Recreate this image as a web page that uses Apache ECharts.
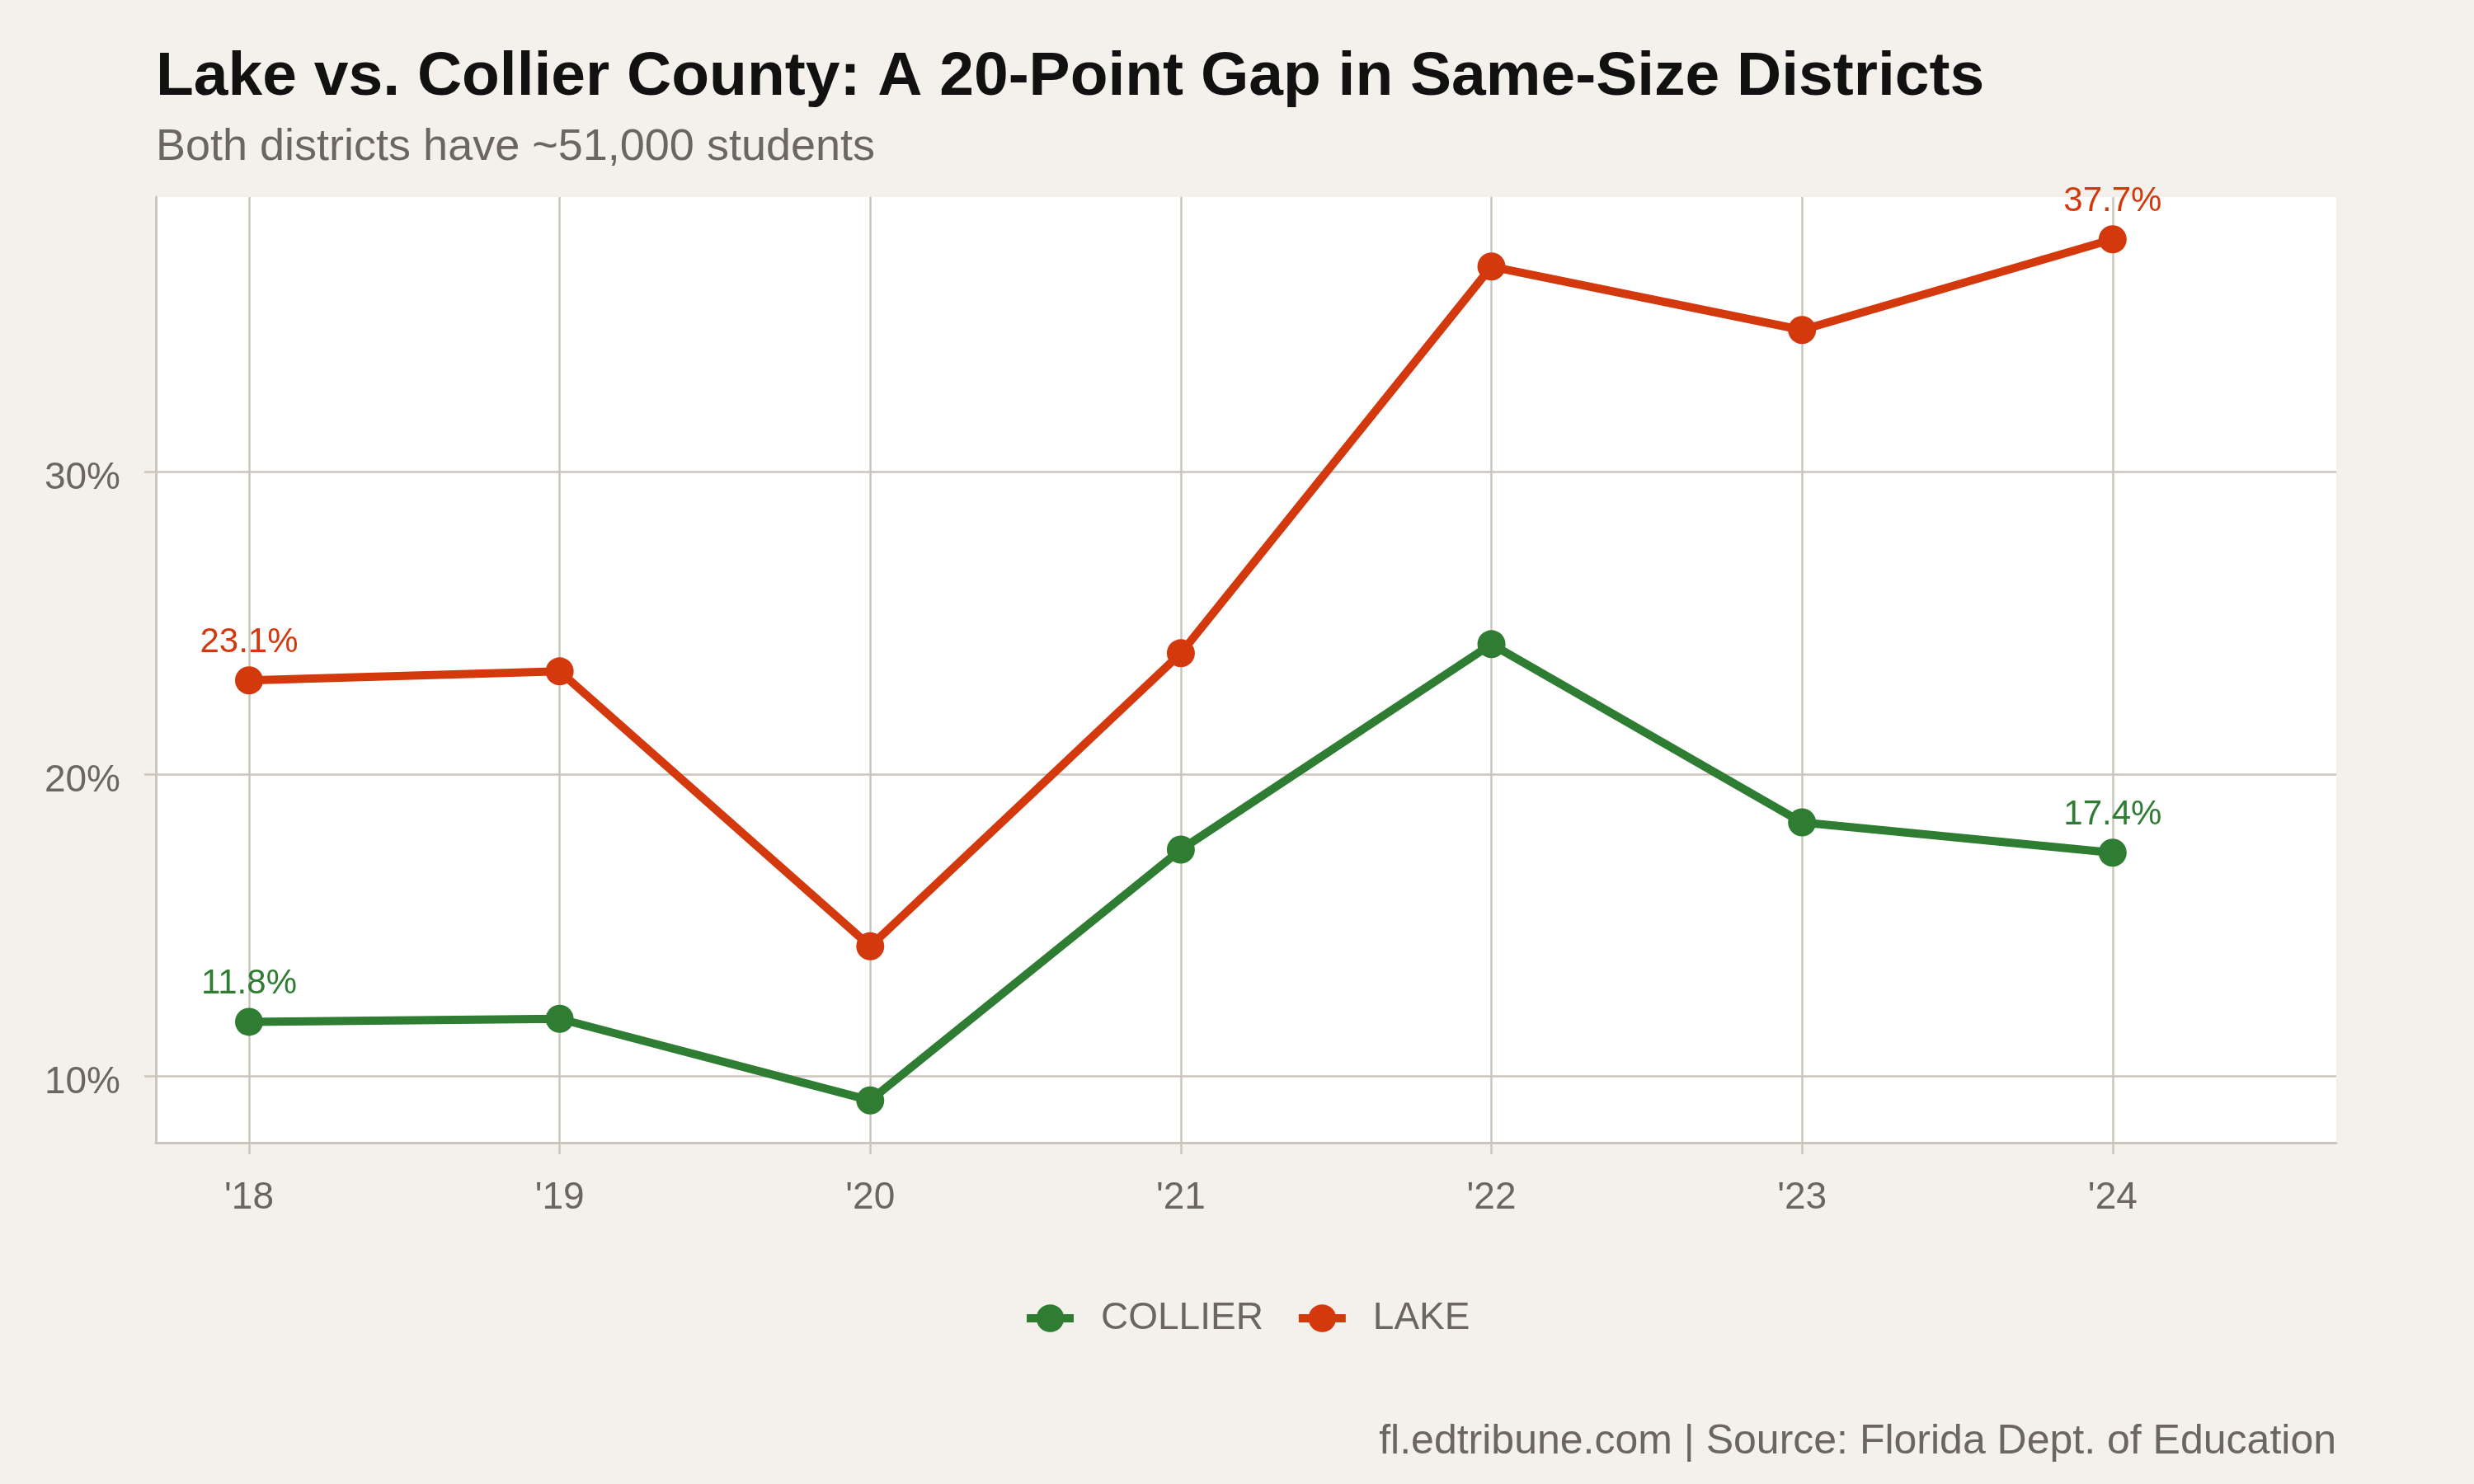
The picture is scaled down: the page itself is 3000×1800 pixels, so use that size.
<!DOCTYPE html>
<html>
<head>
<meta charset="utf-8">
<title>Lake vs. Collier County</title>
<script src="https://cdn.jsdelivr.net/npm/echarts@6/dist/echarts.min.js"></script>
<style>
  html, body { margin: 0; padding: 0; background: #f4f1ec; }
  #chartmain { width: 3000px; height: 1800px; }
</style>
</head>
<body>
<div id="chartmain"></div>
<script>
// data
var years = [2018, 2019, 2020, 2021, 2022, 2023, 2024];
var yearLabels = ["'18", "'19", "'20", "'21", "'22", "'23", "'24"];
var collier = [11.8, 11.9, 9.2, 17.5, 24.3, 18.4, 17.4];
var lake = [23.1, 23.4, 14.3, 24.0, 36.8, 34.7, 37.7];
var yTicks = [10, 20, 30];

var gridColor = '#cbc5bb';
var textGray = '#6b6660';
var font = '"Liberation Sans", Arial, Helvetica, sans-serif';

// label only the first and last point of each line
function points(vals, color) {
	return vals.map(function(v, i) {
		var item = { value: [years[i], v] };
		if (i === 0 || i === vals.length - 1) {
			item.label = {
				show: true,
				position: 'top',
				distance: 8,
				color: color,
				fontSize: 42,
				fontFamily: font,
				formatter: function(p) { return p.value[1].toFixed(1) + '%'; }
			};
		}
		return item;
	});
}

var option = {
	backgroundColor: '#f4f1ec',
	animation: false,
	title: [{
		text: 'Lake vs. Collier County: A 20-Point Gap in Same-Size Districts',
		left: 189,
		top: 57,
		padding: 0,
		textStyle: { fontSize: 75, fontWeight: 'bold', color: '#111111', fontFamily: font, lineHeight: 75 }
	}, {
		text: 'Both districts have ~51,000 students',
		left: 189,
		top: 152,
		padding: 0,
		textStyle: { fontSize: 54, fontWeight: 'normal', color: textGray, fontFamily: font, lineHeight: 54 }
	}, {
		text: 'fl.edtribune.com | Source: Florida Dept. of Education',
		right: 167,
		top: 1724,
		padding: 0,
		textStyle: { fontSize: 50, fontWeight: 'normal', color: textGray, fontFamily: font, lineHeight: 50 }
	}],
	legend: {
		data: ['COLLIER', 'LAKE'],
		left: 1240,
		top: 1576,
		padding: 0,
		itemWidth: 57,
		itemHeight: 42,
		itemGap: 38,
		lineStyle: { width: 10 },
		textStyle: { fontSize: 46, color: textGray, fontFamily: font, padding: [0, 0, 0, 28] }
	},
	grid: {
		left: 189,
		right: 167,
		top: 239,
		bottom: 414,
		show: true,
		backgroundColor: '#ffffff',
		borderWidth: 0
	},
	xAxis: {
		type: 'value',
		min: 2017.7,
		max: 2024.72,
		axisLine: { show: true, lineStyle: { color: gridColor, width: 3 } },
		axisTick: { show: true, length: 14, customValues: years, lineStyle: { color: gridColor, width: 2.5 } },
		axisLabel: {
			customValues: years,
			margin: 44,
			fontSize: 46,
			color: textGray,
			fontFamily: font,
			formatter: function(v) { return yearLabels[years.indexOf(v)]; }
		},
		splitLine: { show: true, lineStyle: { color: gridColor, width: 2.5 } }
	},
	yAxis: {
		type: 'value',
		min: 7.8,
		max: 39.1,
		axisLine: { show: true, lineStyle: { color: gridColor, width: 3 } },
		axisTick: { show: true, length: 14, customValues: yTicks, lineStyle: { color: gridColor, width: 2.5 } },
		axisLabel: {
			customValues: yTicks,
			margin: 43,
			color: textGray,
			formatter: function(v) { return '{v|' + v + '%}'; },
			rich: {
				v: { fontSize: 46, color: textGray, fontFamily: font, padding: [16, 0, 0, 0] }
			}
		},
		splitLine: { show: true, lineStyle: { color: gridColor, width: 2.5 } }
	},
	series: [{
		name: 'COLLIER',
		type: 'line',
		data: points(collier, '#2e7d32'),
		color: '#2e7d32',
		symbol: 'circle',
		symbolSize: 34,
		lineStyle: { width: 10, color: '#2e7d32' },
		itemStyle: { color: '#2e7d32' }
	}, {
		name: 'LAKE',
		type: 'line',
		data: points(lake, '#d4380d'),
		color: '#d4380d',
		symbol: 'circle',
		symbolSize: 34,
		lineStyle: { width: 10, color: '#d4380d' },
		itemStyle: { color: '#d4380d' }
	}]
};

var myChart = echarts.init(document.getElementById('chartmain'));
myChart.setOption(option);
</script>
</body>
</html>
